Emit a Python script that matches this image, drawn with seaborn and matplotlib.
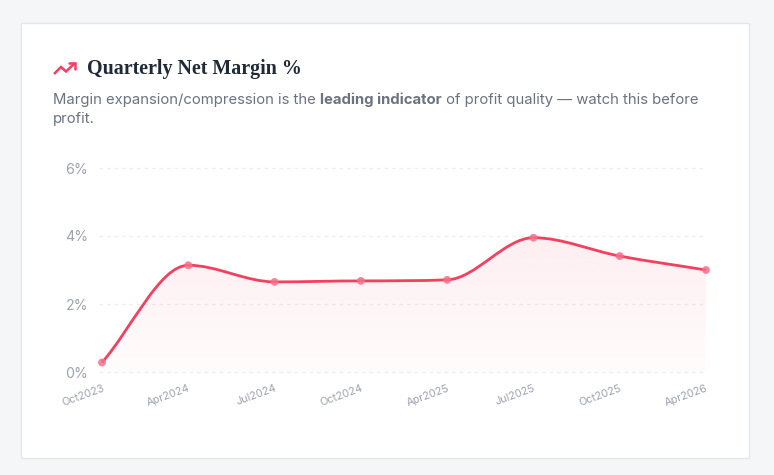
import numpy as np
import pandas as pd
import seaborn as sns
import matplotlib.pyplot as plt
from matplotlib.path import Path
from matplotlib.patches import PathPatch, FancyBboxPatch
from matplotlib.lines import Line2D

# data
quarters = ["Oct2023", "Apr2024", "Jul2024", "Oct2024", "Apr2025", "Jul2025", "Oct2025", "Apr2026"]
margin_pct = [0.28, 3.14, 2.65, 2.68, 2.71, 3.95, 3.41, 3.0]
y_ticks = [0, 2, 4, 6]
y_tick_labels = ["0%", "2%", "4%", "6%"]

title = "Quarterly Net Margin %"
sub_a = "Margin expansion/compression is the "
sub_b = "leading indicator"
sub_c = " of profit quality \u2014 watch this before"
sub_d = "profit."

rose = "#f43f5e"
grey_txt = "#6b7280"
tick_col = "#9ca3af"

sns.set_theme(style="white")
plt.rcParams["font.family"] = ["Inter", "DejaVu Sans"]

W, H = 774, 475
fig = plt.figure(figsize=(W / 100, H / 100), dpi=100)
fig.patch.set_facecolor("#f5f6f8")

# card
card = FancyBboxPatch((21 / W, 1 - 458 / H), 728 / W, 435 / H,
                      boxstyle="square,pad=0", transform=fig.transFigure,
                      facecolor="white", edgecolor="#e3e5ea", linewidth=0.9, zorder=-5)
fig.patches.append(card)

# trending-up icon
ix = np.array([54, 61, 66, 75]) / W
iy = 1 - np.array([74, 67, 71.5, 63]) / H
fig.add_artist(Line2D(ix, iy, color=rose, lw=1.8, solid_joinstyle="miter", solid_capstyle="butt"))
fig.add_artist(Line2D(np.array([69, 75, 75]) / W, 1 - np.array([63, 63, 69]) / H,
                      color=rose, lw=1.8, solid_joinstyle="miter"))

fig.text(87 / W, 1 - 69 / H, title, family=["Liberation Serif", "DejaVu Serif"],
         fontweight="bold", fontsize=14.4, color="#1f2937", va="center", ha="left")

# subtitle with a bold segment
fig.canvas.draw()
renderer = fig.canvas.get_renderer()
x0 = 53
ys = 1 - 100 / H
for txt, wt in [(sub_a, "normal"), (sub_b, "bold"), (sub_c, "normal")]:
    t = fig.text(x0 / W, ys, txt, fontsize=10.7, color=grey_txt, fontweight=wt,
                 va="center", ha="left")
    bb = t.get_window_extent(renderer)
    x0 = bb.x1
fig.text(53 / W, 1 - 119 / H, sub_d, fontsize=10.7, color=grey_txt, va="center", ha="left")

# chart axes
ax = fig.add_axes([102 / W, 1 - 372 / H, 604 / W, 204 / H])
ax.set_facecolor("none")
df = pd.DataFrame({"quarter": quarters, "margin": margin_pct})
df["pos"] = np.arange(len(df))

ax.set_xlim(0, len(df) - 1)
ax.set_ylim(0, 6)

# monotone cubic curve through the points (Fritsch-Carlson)
xs = df["pos"].to_numpy().astype(float)
yv = df["margin"].to_numpy().astype(float)
n = len(xs)
delta = np.diff(yv) / np.diff(xs)
m = np.zeros(n)
m[0], m[-1] = delta[0], delta[-1]
for i in range(1, n - 1):
    m[i] = 0 if delta[i - 1] * delta[i] <= 0 else (delta[i - 1] + delta[i]) / 2
for i in range(n - 1):
    if delta[i] == 0:
        m[i] = m[i + 1] = 0
        continue
    a, b = m[i] / delta[i], m[i + 1] / delta[i]
    tau = a * a + b * b
    if tau > 9:
        k = 3 / np.sqrt(tau)
        m[i], m[i + 1] = a * k * delta[i], b * k * delta[i]

verts = [(xs[0], yv[0])]
codes = [Path.MOVETO]
for i in range(n - 1):
    dx = (xs[i + 1] - xs[i]) / 3
    verts += [(xs[i] + dx, yv[i] + m[i] * dx),
              (xs[i + 1] - dx, yv[i + 1] - m[i + 1] * dx),
              (xs[i + 1], yv[i + 1])]
    codes += [Path.CURVE4] * 3
line_path = Path(verts, codes)

# gradient fill under the curve
fill_verts = verts + [(xs[-1], 0), (xs[0], 0), verts[0]]
fill_codes = codes + [Path.LINETO, Path.LINETO, Path.CLOSEPOLY]
fill_patch = PathPatch(Path(fill_verts, fill_codes), facecolor="none", edgecolor="none",
                       transform=ax.transData)
ax.add_patch(fill_patch)
grad = np.linspace(0.0, 1.0, 256).reshape(-1, 1)
rgba = np.zeros((256, 1, 4))
rgba[..., 0] = 244 / 255
rgba[..., 1] = 63 / 255
rgba[..., 2] = 94 / 255
rgba[..., 3] = 0.015 + 0.08 * grad
img = ax.imshow(rgba, extent=[0, n - 1, 0, 4.2], origin="lower", aspect="auto", zorder=1)
img.set_clip_path(fill_patch)

for yt in y_ticks:
    ax.axhline(yt, xmin=-0.005, color="#eceef1", lw=0.9, ls=(0, (3, 3)), zorder=0.5, clip_on=False)

ax.add_patch(PathPatch(line_path, facecolor="none", edgecolor=rose, lw=2.0,
                       transform=ax.transData, zorder=3, clip_on=False))
sns.scatterplot(data=df, x="pos", y="margin", ax=ax, color="#f6708a", s=32,
                edgecolor="none", alpha=0.85, zorder=4, clip_on=False, legend=False)

ax.set_yticks(y_ticks)
ax.set_yticklabels(y_tick_labels, fontsize=10.2, color=tick_col)
ax.set_xticks(df["pos"])
ax.set_xticklabels(quarters, fontsize=7.8, color=tick_col, rotation=20,
                   ha="right", rotation_mode="anchor")
ax.tick_params(axis="y", length=0, pad=10)
ax.tick_params(axis="x", length=0, pad=8)
ax.set_xlabel("")
ax.set_ylabel("")
for s in ax.spines.values():
    s.set_visible(False)

fig.savefig("out.png", dpi=100, facecolor=fig.get_facecolor())
